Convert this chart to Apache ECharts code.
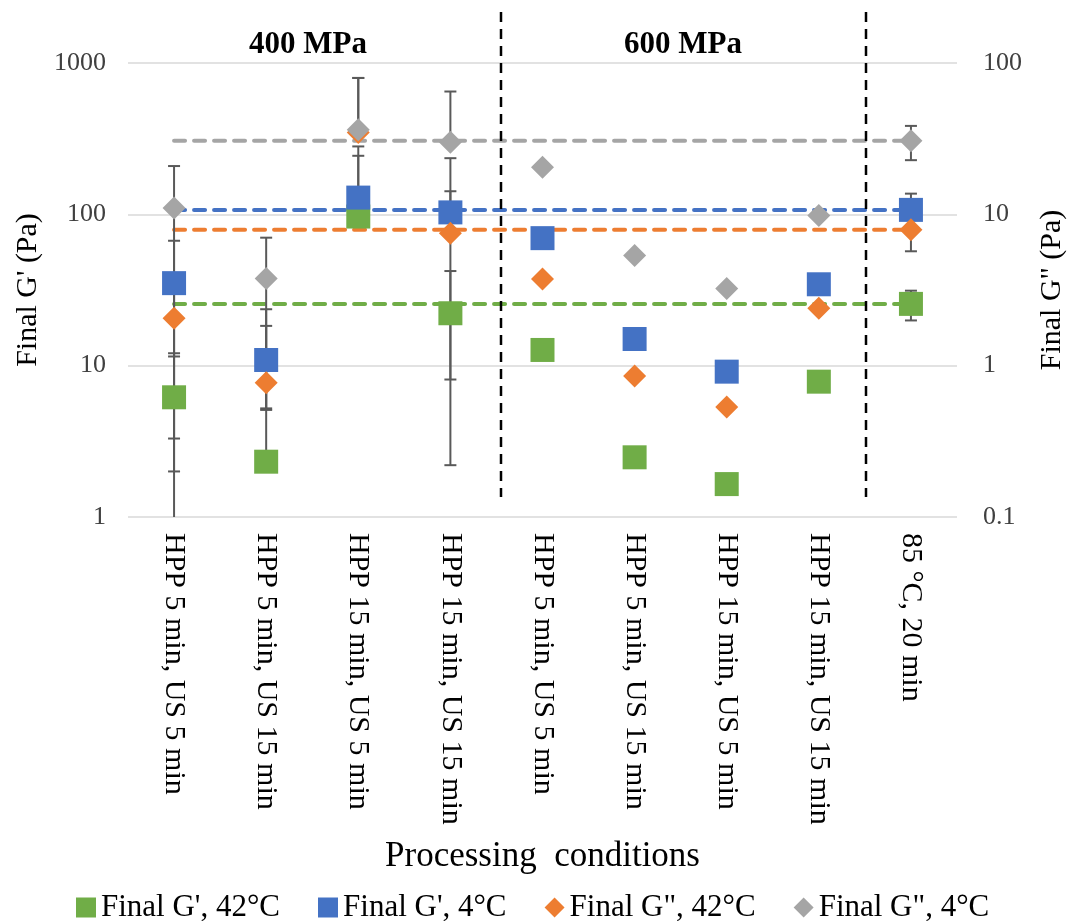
<!DOCTYPE html>
<html>
<head>
<meta charset="utf-8">
<title>Final G' and G'' by processing condition</title>
<script src="https://cdn.jsdelivr.net/npm/echarts@6/dist/echarts.min.js"></script>
<style>
  html, body { margin: 0; padding: 0; background: #fff; }
  #chart { width: 1072px; height: 921px; }
</style>
</head>
<body>
<div id="chart"></div>
<script>
// Processing conditions (x categories)
const categories = [
  'HPP 5 min, US 5 min',
  'HPP 5 min, US 15 min',
  'HPP 15 min, US 5 min',
  'HPP 15 min, US 15 min',
  'HPP 5 min, US 5 min',
  'HPP 5 min, US 15 min',
  'HPP 15 min, US 5 min',
  'HPP 15 min, US 15 min',
  '85 °C, 20 min'
];

// Final G' (Pa), left axis
const gPrime42 = [6.18, 2.32, 96.7, 22.2, 12.7, 2.48, 1.65, 7.84, 25.6];
const gPrime4  = [35.1, 10.9, 129, 103, 69.6, 15.0, 9.13, 34.5, 107];
// Final G'' (Pa), right axis
const gDouble42 = [2.06, 0.772, 34.7, 7.51, 3.74, 0.855, 0.533, 2.40, 7.90];
const gDouble4  = [11.0, 3.76, 36.2, 30.0, 20.5, 5.34, 3.23, 9.82, 30.6];

// Standard deviations (null = not reported)
const gPrime42Err  = [5.9, 16.0, 147, 20.0, null, null, null, null, 5.7];
const gPrime4Err   = [31.8, 12.7, 152, 132, null, null, null, null, 30];
const gDouble42Err = [1.86, 0.25, 45, 6.7, null, null, null, null, 2.2];
const gDouble4Err  = [9.85, 3.25, 43.4, 34.8, null, null, null, null, 7.8];

// Axis ticks
const leftTicks = [1, 10, 100, 1000];
const rightTicks = [0.1, 1, 10, 100];

// Group headings
const groupLabels = ['400 MPa', '600 MPa'];

const FONT = '"Liberation Serif", "Times New Roman", serif';
const C_GREEN = '#70AD47', C_BLUE = '#4472C4', C_ORANGE = '#ED7D31', C_GRAY = '#A5A5A5';

const pairs = (vals) => vals.map((v, i) => [i, v]);
const withErr = (vals, errs) => vals.map((v, i) => [i, v, errs[i] == null ? '-' : errs[i]]);

// Error bars: vertical whisker with caps; a lower bound <= 0 is not drawable on a log axis
function errorBarRender(params, api) {
  const err = api.value(2);
  if (err === '-' || err == null || isNaN(err)) return null;
  const x = api.value(0), v = api.value(1);
  const cs = params.coordSys;
  const top = cs.y, bottom = cs.y + cs.height;
  const clampY = (y) => Math.max(top, Math.min(bottom, y));
  const centre = api.coord([x, v]);
  const hi = api.coord([x, v + err]);
  const half = 6;
  const style = { stroke: '#595959', lineWidth: 2 };
  const children = [];
  children.push({ type: 'line', shape: { x1: centre[0], y1: centre[1], x2: hi[0], y2: clampY(hi[1]) }, style });
  if (hi[1] >= top) {
    children.push({ type: 'line', shape: { x1: hi[0] - half, y1: hi[1], x2: hi[0] + half, y2: hi[1] }, style });
  }
  const low = v - err;
  if (low > 0) {
    const lo = api.coord([x, low]);
    children.push({ type: 'line', shape: { x1: centre[0], y1: centre[1], x2: lo[0], y2: clampY(lo[1]) }, style });
    if (lo[1] <= bottom) {
      children.push({ type: 'line', shape: { x1: lo[0] - half, y1: lo[1], x2: lo[0] + half, y2: lo[1] }, style });
    }
  }
  return { type: 'group', children };
}

function errorSeries(vals, errs, axis) {
  return {
    type: 'custom',
    yAxisIndex: axis,
    renderItem: errorBarRender,
    data: withErr(vals, errs),
    encode: { x: 0, y: 1 },
    silent: true,
    z: 2
  };
}

// Reference line at the thermally treated control level, spanning all conditions
function controlLine(vals, color, axis) {
  const last = vals.length - 1;
  return {
    type: 'line',
    yAxisIndex: axis,
    data: [[0, vals[last]], [last, vals[last]]],
    symbol: 'none',
    silent: true,
    lineStyle: { color, width: 4, type: [11, 9], cap: 'round' },
    z: 1
  };
}

function scatterSeries(name, vals, axis, color, symbol, size) {
  return {
    name,
    type: 'scatter',
    yAxisIndex: axis,
    data: pairs(vals),
    symbol,
    symbolSize: size,
    itemStyle: { color, opacity: 1 },
    z: 3
  };
}

const chart = echarts.init(document.getElementById('chart'), null, { renderer: 'canvas' });

const axisNameStyle = { fontFamily: FONT, fontSize: 30, color: '#000' };
const tickStyle = { fontFamily: FONT, fontSize: 26, color: '#404040' };

chart.setOption({
  animation: false,
  backgroundColor: '#fff',
  grid: { left: 128, right: 115, top: 63, bottom: 404, outerBoundsMode: 'none', containLabel: false },
  legend: {
    data: [
      { name: "Final G', 42°C", icon: 'rect' },
      { name: "Final G', 4°C", icon: 'rect' },
      { name: 'Final G", 42°C', icon: 'diamond' },
      { name: 'Final G", 4°C', icon: 'diamond' }
    ],
    top: 887,
    left: 71,
    itemWidth: 20,
    itemHeight: 20,
    itemGap: 38,
    textStyle: { fontFamily: FONT, fontSize: 31, color: '#000' }
  },
  xAxis: {
    type: 'category',
    data: categories,
    boundaryGap: true,
    axisLine: { show: false },
    axisTick: { show: false },
    axisLabel: {
      interval: 0,
      rotate: -90,
      margin: 16,
      fontFamily: FONT,
      fontSize: 30,
      color: '#000'
    },
    name: 'Processing  conditions',
    nameLocation: 'middle',
    nameGap: 322,
    nameTextStyle: { fontFamily: FONT, fontSize: 35, color: '#000' }
  },
  yAxis: [
    {
      type: 'log',
      logBase: 10,
      min: leftTicks[0],
      max: leftTicks[leftTicks.length - 1],
      position: 'left',
      axisLine: { show: false },
      axisTick: { show: false },
      splitLine: { show: true, lineStyle: { color: '#d9d9d9', width: 1.5 } },
      axisLabel: { ...tickStyle, margin: 22, formatter: (v) => String(v) },
      name: "Final G' (Pa)",
      nameLocation: 'middle',
      nameRotate: 90,
      nameGap: 84,
      nameTextStyle: axisNameStyle
    },
    {
      type: 'log',
      logBase: 10,
      min: rightTicks[0],
      max: rightTicks[rightTicks.length - 1],
      position: 'right',
      axisLine: { show: false },
      axisTick: { show: false },
      splitLine: { show: false },
      axisLabel: { ...tickStyle, margin: 26, formatter: (v) => String(+(+v).toPrecision(3)) },
      name: 'Final G" (Pa)',
      nameLocation: 'middle',
      nameRotate: 90,
      nameGap: 80,
      nameTextStyle: axisNameStyle
    }
  ],
  series: [
    controlLine(gDouble4, C_GRAY, 1),
    controlLine(gPrime4, C_BLUE, 0),
    controlLine(gDouble42, C_ORANGE, 1),
    controlLine(gPrime42, C_GREEN, 0),
    errorSeries(gPrime42, gPrime42Err, 0),
    errorSeries(gPrime4, gPrime4Err, 0),
    errorSeries(gDouble42, gDouble42Err, 1),
    errorSeries(gDouble4, gDouble4Err, 1),
    scatterSeries("Final G', 42°C", gPrime42, 0, C_GREEN, 'rect', 24),
    scatterSeries("Final G', 4°C", gPrime4, 0, C_BLUE, 'rect', 24),
    scatterSeries('Final G", 42°C', gDouble42, 1, C_ORANGE, 'diamond', 23),
    scatterSeries('Final G", 4°C', gDouble4, 1, C_GRAY, 'diamond', 23)
  ],
  graphic: [
    // Pressure group separators
    { type: 'line', shape: { x1: 501, y1: 12, x2: 501, y2: 497 },
      style: { stroke: '#000', lineWidth: 2.5, lineDash: [10, 7] }, silent: true, z: 5 },
    { type: 'line', shape: { x1: 866, y1: 12, x2: 866, y2: 497 },
      style: { stroke: '#000', lineWidth: 2.5, lineDash: [10, 7] }, silent: true, z: 5 },
    { type: 'text', x: 308, y: 45,
      style: { text: groupLabels[0], fontFamily: FONT, fontSize: 31, fontWeight: 'bold', fill: '#000',
               align: 'center', verticalAlign: 'middle' }, z: 5 },
    { type: 'text', x: 683, y: 45,
      style: { text: groupLabels[1], fontFamily: FONT, fontSize: 31, fontWeight: 'bold', fill: '#000',
               align: 'center', verticalAlign: 'middle' }, z: 5 }
  ]
});
</script>
</body>
</html>
